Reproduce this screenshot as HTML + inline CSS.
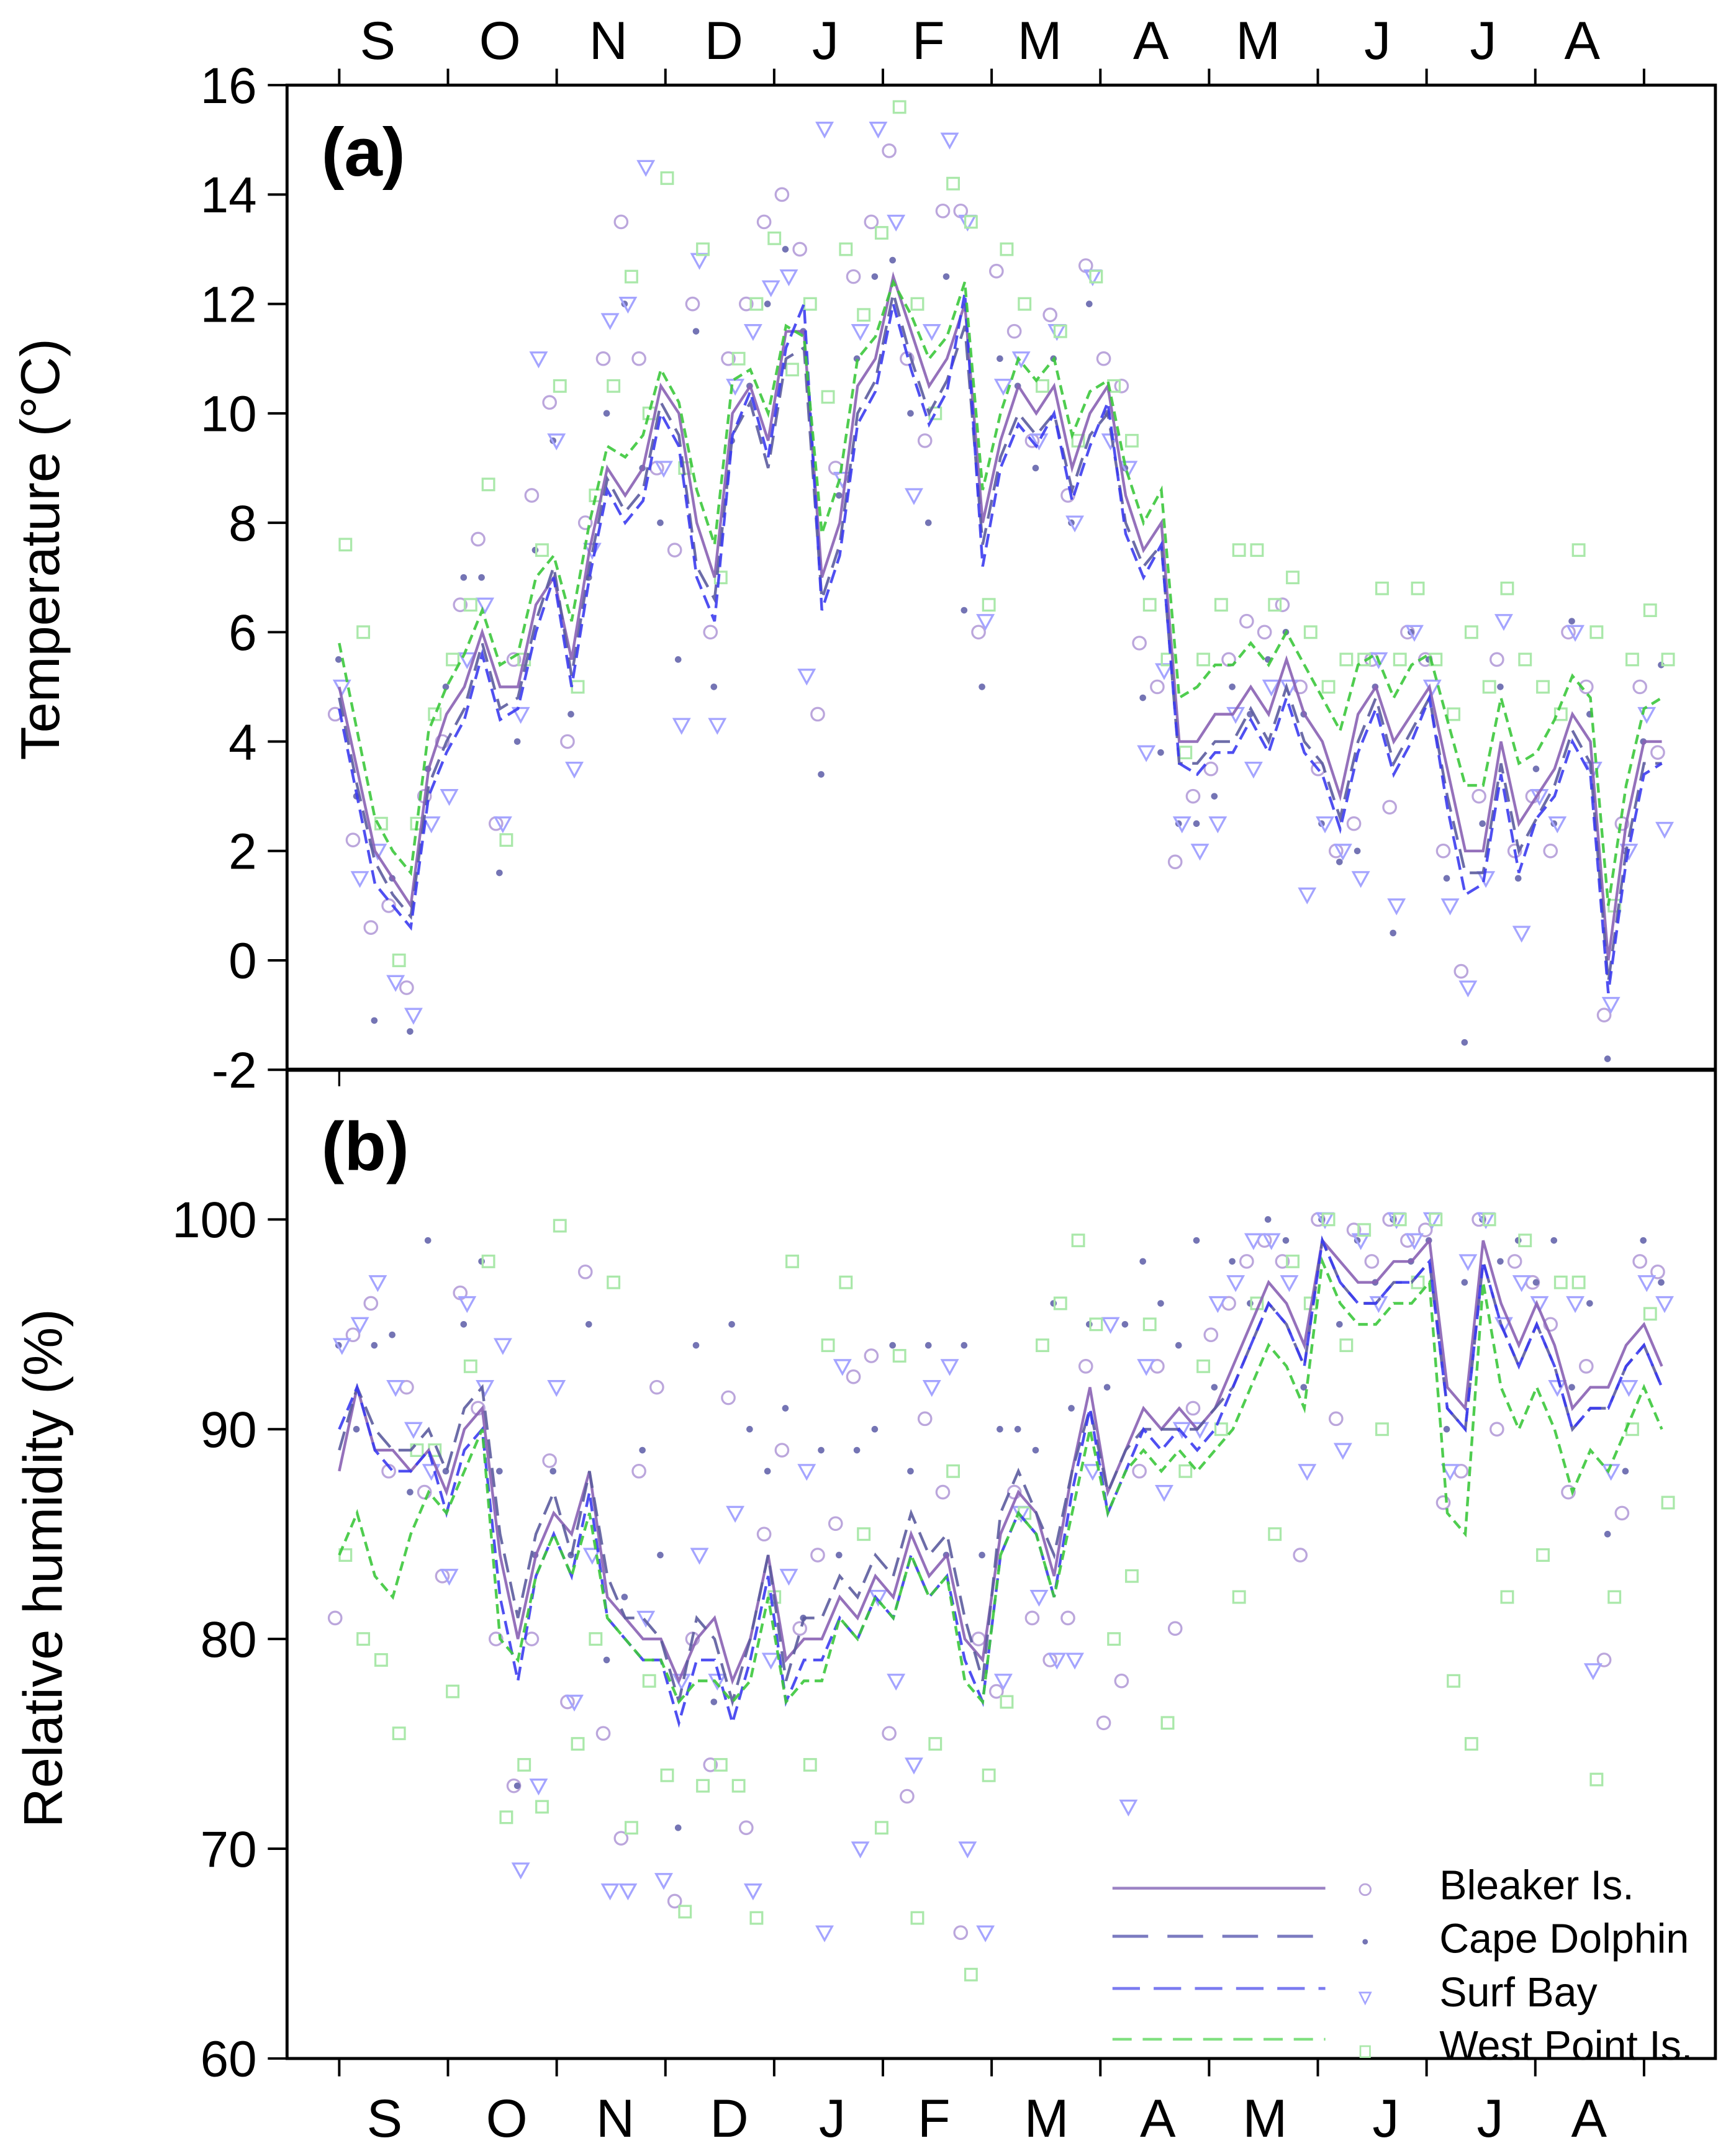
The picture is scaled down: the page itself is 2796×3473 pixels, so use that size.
<!DOCTYPE html>
<html><head><meta charset="utf-8"><style>
html,body{margin:0;padding:0;background:#fff;}
svg{display:block;}
text{font-family:"Liberation Sans",Arial,sans-serif;fill:#000;}
</style></head><body>
<svg id="chart" width="2796" height="3473" viewBox="0 0 1264 1570" preserveAspectRatio="none" xmlns="http://www.w3.org/2000/svg">
<g id="marks"></g>
<g id="axes"></g>
</svg>
<script>
// ---- data (5-day steps starting 1 Sep) ----
const months = ["S","O","N","D","J","F","M","A","M","J","J","A"];
const tempTicks = [-2,0,2,4,6,8,10,12,14,16];
const rhTicks = [60,70,80,90,100];
const stations = ["Bleaker Is.","Cape Dolphin","Surf Bay","West Point Is."];

const tBleakerLine = [5.0,3.5,2.0,1.5,1.0,3.5,4.5,5.0,6.0,5.0,5.0,6.5,7.0,5.5,7.5,9.0,8.5,9.0,10.5,10.0,8.0,7.0,10.0,10.5,9.5,11.5,11.5,7.0,8.0,10.5,11.0,12.5,11.5,10.5,11.0,12.0,8.0,9.5,10.5,10.0,10.5,9.0,10.0,10.5,8.5,7.5,8.0,4.0,4.0,4.5,4.5,5.0,4.5,5.5,4.5,4.0,3.0,4.5,5.0,4.0,4.5,5.0,3.5,2.0,2.0,4.0,2.5,3.0,3.5,4.5,4.0,0.0,2.5,4.0,4.0];
const tCapeLine    = [4.8,3.2,1.8,1.2,0.8,3.2,4.0,4.6,5.8,4.6,4.8,6.2,7.2,5.2,7.2,8.8,8.2,8.6,10.2,9.6,7.2,6.6,9.6,10.2,9.0,11.0,11.2,6.6,7.6,10.0,10.6,12.2,11.0,10.0,10.6,11.6,7.6,9.2,10.0,9.6,10.0,8.6,9.6,10.0,8.0,7.2,7.6,3.6,3.6,4.0,4.0,4.6,4.0,5.0,4.0,3.6,2.6,4.0,4.8,3.6,4.2,4.8,3.0,1.6,1.6,3.6,2.0,2.6,3.2,4.2,3.6,-0.4,2.0,3.6,3.6];
const tSurfLine    = [4.6,3.0,1.4,1.0,0.6,3.0,3.8,4.4,5.6,4.4,4.6,6.0,7.0,5.0,7.0,8.6,8.0,8.4,10.0,9.4,7.0,6.2,9.6,10.4,9.2,11.2,12.0,6.4,7.4,9.8,10.4,12.0,10.8,9.8,10.4,12.2,7.2,9.0,9.8,9.4,10.0,8.4,9.4,10.2,7.8,7.0,7.6,3.6,3.4,3.8,3.8,4.4,3.8,4.8,3.8,3.4,2.4,3.8,4.6,3.4,4.0,4.8,2.8,1.2,1.4,3.4,1.6,2.6,3.0,4.0,3.4,-0.6,1.8,3.4,3.6];
const tWestLine    = [5.8,4.2,2.6,2.0,1.6,4.2,5.0,5.6,6.4,5.4,5.6,7.0,7.4,6.2,8.0,9.4,9.2,9.6,10.8,10.2,8.6,7.6,10.6,10.8,10.0,11.6,11.4,7.8,8.8,11.0,11.4,12.4,11.8,11.0,11.4,12.4,8.6,10.0,11.0,10.6,11.0,9.6,10.4,10.6,9.0,8.0,8.6,4.8,5.0,5.4,5.4,5.8,5.4,6.0,5.4,4.8,4.2,5.4,5.6,4.8,5.4,5.6,4.4,3.2,3.2,4.8,3.6,3.8,4.4,5.2,4.8,1.0,3.2,4.6,4.8];

const tBleakerPts = [4.5,2.2,0.6,1.0,-0.5,3.0,4.0,6.5,7.7,2.5,5.5,8.5,10.2,4.0,8.0,11.0,13.5,11.0,9.0,7.5,12.0,6.0,11.0,12.0,13.5,14.0,13.0,4.5,9.0,12.5,13.5,14.8,11.0,9.5,13.7,13.7,6.0,12.6,11.5,9.5,11.8,8.5,12.7,11.0,10.5,5.8,5.0,1.8,3.0,3.5,5.5,6.2,6.0,6.5,5.0,3.5,2.0,2.5,5.5,2.8,6.0,5.5,2.0,-0.2,3.0,5.5,2.0,3.0,2.0,6.0,5.0,-1.0,2.5,5.0,3.8];
const tCapePts    = [5.5,3.0,-1.1,1.5,-1.3,3.5,5.0,7.0,7.0,1.6,4.0,7.5,9.5,4.5,7.0,10.0,12.0,9.0,8.0,5.5,11.5,5.0,9.5,10.5,12.0,13.0,11.5,3.4,8.5,11.0,12.5,12.8,10.0,8.0,12.5,6.4,5.0,11.0,10.5,9.0,11.0,8.0,12.0,10.0,9.0,4.8,3.8,2.5,2.5,3.0,5.0,4.5,5.5,6.0,4.5,2.5,1.8,2.0,5.0,0.5,6.0,5.5,1.5,-1.5,2.5,5.0,1.5,3.5,2.5,6.2,4.5,-1.8,2.0,4.0,5.4];
const tSurfPts    = [5.0,1.5,2.0,-0.4,-1.0,2.5,3.0,5.5,6.5,2.5,4.5,11.0,9.5,3.5,7.5,11.7,12.0,14.5,9.0,4.3,12.8,4.3,10.5,11.5,12.3,12.5,5.2,15.2,8.8,11.5,15.2,13.5,8.5,11.5,15.0,13.5,6.2,10.5,11.0,9.5,11.5,8.0,12.5,9.5,9.0,3.8,5.3,2.5,2.0,2.5,4.5,3.5,5.0,5.0,1.2,2.5,2.0,1.5,5.5,1.0,6.0,5.0,1.0,-0.5,1.5,6.2,0.5,3.0,2.5,6.0,3.5,-0.8,2.0,4.5,2.4];
const tWestPts    = [7.6,6.0,2.5,0.0,2.5,4.5,5.5,6.5,8.7,2.2,5.5,7.5,10.5,5.0,8.5,10.5,12.5,10.0,14.3,9.0,13.0,7.0,11.0,12.0,13.2,10.8,12.0,10.3,13.0,11.8,13.3,15.6,12.0,10.0,14.2,13.5,6.5,13.0,12.0,10.5,11.5,9.5,12.5,10.5,9.5,6.5,5.5,3.8,5.5,6.5,7.5,7.5,6.5,7.0,6.0,5.0,5.5,5.5,6.8,5.5,6.8,5.5,4.5,6.0,5.0,6.8,5.5,5.0,4.5,7.5,6.0,1.0,5.5,6.4,5.5];

const rhBleakerLine = [88,92,89,89,88,89,87,90,91,84,80,84,86,85,88,82,81,80,80,78,80,81,78,80,84,79,80,80,82,81,83,82,85,83,84,80,79,85,87,86,83,88,92,87,89,91,90,91,90,91,93,95,97,96,94,99,98,97,97,98,98,99,92,91,99,96,94,96,94,91,92,92,94,95,93];
const rhCapeLine    = [89,92,90,89,89,90,88,91,92,85,81,85,87,84,88,83,81,81,80,77,81,80,77,80,84,78,81,81,83,82,84,83,86,84,85,81,78,86,88,86,84,88,91,87,89,90,90,90,90,91,92,94,96,95,93,99,97,96,96,97,97,98,91,90,98,95,93,95,93,90,91,91,93,94,92];
const rhSurfLine    = [90,92,89,88,88,89,86,89,90,82,78,83,85,83,87,81,80,79,79,76,79,79,76,79,83,77,79,79,81,80,82,81,84,82,83,79,77,84,86,85,82,87,91,86,88,90,89,90,89,90,92,94,96,95,93,99,97,96,96,97,97,98,91,90,98,95,93,95,93,90,91,91,93,94,92];
const rhWestLine    = [84,86,83,82,85,87,86,88,90,80,79,83,85,83,86,81,80,79,79,77,78,78,77,78,82,77,78,78,81,80,82,81,84,82,83,78,77,84,86,85,82,86,90,86,88,89,88,89,88,89,90,92,94,93,91,98,96,95,95,96,96,97,86,85,97,92,90,92,90,87,89,88,90,92,90];

const rhBleakerPts = [81,94.5,96,88,92,87,83,96.5,91,80,73,80,88.5,77,97.5,75.5,70.5,88,92,67.5,80,74,91.5,71,85,89,80.5,84,85.5,92.5,93.5,75.5,72.5,90.5,87,66,80,77.5,87,81,79,81,93,76,78,88,93,80.5,91,94.5,96,98,99,98,84,100,90.5,99.5,98,100,99,99.5,86.5,88,100,90,98,97,95,87,93,79,86,98,97.5];
const rhCapePts    = [94,90,94,94.5,87,99,88,95,98,88,73,84,88,84,95,79,82,89,84,71,94,77,95,90,88,91,81,89,84,89,90,94,88,94,84,94,84,90,90,89,96,91,95,92,95,98,96,94,99,92,98,96,100,99,92,100,95,99,97,100,98,99,90,97,100,98,99,97,99,92,96,85,88,99,97];
const rhSurfPts    = [94,95,97,92,90,88,83,96,92,94,69,73,92,77,84,68,68,81,68.5,78,84,78,86,68,79,83,88,66,93,70,82,78,74,92,93,70,66,78,86,82,79,79,88,95,72,93,87,90,90,96,97,99,99,97,88,100,89,99,96,100,99,100,88,98,100,95,97,96,92,96,78.5,88,92,97,96];
const rhWestPts    = [84,80,79,75.5,89,89,77.5,93,98,71.5,74,72,99.7,75,80,97,71,78,73.5,67,73,74,73,66.7,82,98,74,94,97,85,71,93.5,66.7,75,88,64,73.5,77,86,94,96,99,95,80,83,95,76,88,93,90,82,96,85,98,96,100,94,99.5,90,100,97,100,78,75,100,82,99,84,97,97,73.3,82,90,95.5,86.5];

// ---- layout ----
const NS="http://www.w3.org/2000/svg";
const L=209,R=1249,A_TOP=62,A_BOT=779,B_TOP=779,B_BOT=1499;
const xDay = d => 247 + d*950/365;
const xIdx = i => xDay(i*5);
const yT = v => A_BOT - (v+2)/18*(A_BOT-A_TOP);
const yH = v => B_BOT - (v-60)/40*(1499-888);
const marks=document.getElementById('marks'), axes=document.getElementById('axes');
function mk(tag,attrs,parent){const e=document.createElementNS(NS,tag);for(const k in attrs)e.setAttribute(k,attrs[k]);parent.appendChild(e);return e;}

const lineStyle=[
 {stroke:"#8a62b4",dash:"none"},
 {stroke:"#5c5c9e",dash:"14 7"},
 {stroke:"#3c3cf0",dash:"10 5"},
 {stroke:"#3cc83c",dash:"7 4"}];
function marker(kind,x,y,parent){
 let e;
 if(kind===0){e=mk('circle',{cx:x,cy:y,r:4.6,fill:"none",stroke:"#bba6dc","stroke-width":1.5},parent);}
 else if(kind===1){e=mk('circle',{cx:x,cy:y,r:2.4,fill:"#7474b4"},parent);}
 else if(kind===2){e=mk('path',{d:`M${x-5.5},${y-4.5}L${x+5.5},${y-4.5}L${x},${y+5.5}Z`,fill:"none",stroke:"#a4a4ff","stroke-width":1.5},parent);}
 else {e=mk('rect',{x:x-4.2,y:y-4.2,width:8.4,height:8.4,fill:"none",stroke:"#aae8aa","stroke-width":1.5},parent);}
 return e;
}
function drawPanel(pts,lines,yf,clipTop,clipBot,tag){
 pts.forEach((arr,k)=>{arr.forEach((v,i)=>{
   const y=yf(v); if(y<clipTop||y>clipBot) return;
   const m=marker(k,xIdx(i)+k*2.5-3,y,marks);
   
   
 });});
 lines.forEach((arr,k)=>{
   const p=arr.map((v,i)=>xIdx(i).toFixed(1)+","+yf(v).toFixed(1)).join(" ");
   const pl=mk('polyline',{points:p,fill:"none",stroke:lineStyle[k].stroke,"stroke-width":2,"stroke-dasharray":lineStyle[k].dash,opacity:0.9},marks);
   
   
 });
}
drawPanel([tBleakerPts,tCapePts,tSurfPts,tWestPts],[tBleakerLine,tCapeLine,tSurfLine,tWestLine],yT,A_TOP,A_BOT,'temperature');
drawPanel([rhBleakerPts,rhCapePts,rhSurfPts,rhWestPts],[rhBleakerLine,rhCapeLine,rhSurfLine,rhWestLine],yH,B_TOP,B_BOT,'humidity');

// frames
let f=mk('rect',{x:L,y:A_TOP,width:R-L,height:B_BOT-A_TOP,fill:"none",stroke:"#000","stroke-width":2.2},axes);


mk('line',{x1:L,y1:A_BOT,x2:R,y2:A_BOT,stroke:"#000","stroke-width":3},axes);
// month ticks
for(let k=0;k<13;k++){
 const x=247+k*79.17;
 mk('line',{x1:x,y1:A_TOP-12,x2:x,y2:A_TOP,stroke:"#000","stroke-width":1.8},axes);
 mk('line',{x1:x,y1:B_BOT,x2:x,y2:B_BOT+13,stroke:"#000","stroke-width":1.8},axes);
}
mk('line',{x1:247,y1:B_TOP,x2:247,y2:B_TOP+12,stroke:"#000","stroke-width":1.5},axes);
const topX=[275,364,443,527,601,676,757,838,916,1003,1080,1152];
const botX=[280,369,448,531,606,680,762,843,921,1009,1085,1157];
months.forEach((m,i)=>{
 const t=mk('text',{x:topX[i],y:43,"font-size":39,"text-anchor":"middle"},axes);t.textContent=m;
 
 
 const b=mk('text',{x:botX[i],y:1556,"font-size":39,"text-anchor":"middle"},axes);b.textContent=m;
 
 
});
tempTicks.forEach(v=>{
 const y=yT(v);
 mk('line',{x1:L-14,y1:y,x2:L,y2:y,stroke:"#000","stroke-width":1.8},axes);
 const t=mk('text',{x:187,y:y+13,"font-size":37,"text-anchor":"end"},axes);t.textContent=v;
 
 
});
rhTicks.forEach(v=>{
 const y=yH(v);
 mk('line',{x1:L-14,y1:y,x2:L,y2:y,stroke:"#000","stroke-width":1.8},axes);
 const t=mk('text',{x:187,y:y+13,"font-size":37,"text-anchor":"end"},axes);t.textContent=v;
 
 
});
</script>
<svg style="position:absolute;left:0;top:0" width="2796" height="3473" viewBox="0 0 1264 1570" preserveAspectRatio="none" xmlns="http://www.w3.org/2000/svg">
<text x="234" y="128" font-size="50" font-weight="bold">(a)</text>
<text x="234" y="852" font-size="50" font-weight="bold">(b)</text>
<text transform="translate(43,400) rotate(-90)" font-size="40" text-anchor="middle">Temperature (°C)</text>
<text transform="translate(45,1142) rotate(-90)" font-size="40" text-anchor="middle">Relative humidity (%)</text>
<g>
<line x1="810" y1="1375" x2="965" y2="1375" stroke="#9b82c4" stroke-width="2"/>
<line x1="810" y1="1410" x2="965" y2="1410" stroke="#7b7bc0" stroke-width="2.2" stroke-dasharray="26 14"/>
<line x1="810" y1="1448" x2="965" y2="1448" stroke="#7b7bf0" stroke-width="2.2" stroke-dasharray="20 10"/>
<line x1="810" y1="1485" x2="965" y2="1485" stroke="#80e080" stroke-width="2" stroke-dasharray="14 8"/>
<circle cx="994" cy="1376" r="4" fill="none" stroke="#bba6dc" stroke-width="1.3"/>
<circle cx="994" cy="1414" r="2" fill="#7474b4"/>
<path d="M990,1451L998,1451L994,1459Z" fill="none" stroke="#a4a4ff" stroke-width="1.2"/>
<rect x="990.5" y="1490" width="7" height="8" fill="none" stroke="#aae8aa" stroke-width="1.2"/>
<text x="1048" y="1383" font-size="30">Bleaker Is.</text>
<text x="1048" y="1422" font-size="30">Cape Dolphin</text>
<text x="1048" y="1461" font-size="30">Surf Bay</text>
<text x="1048" y="1500" font-size="30">West Point Is.</text>
</g>
</svg>
</body></html>
